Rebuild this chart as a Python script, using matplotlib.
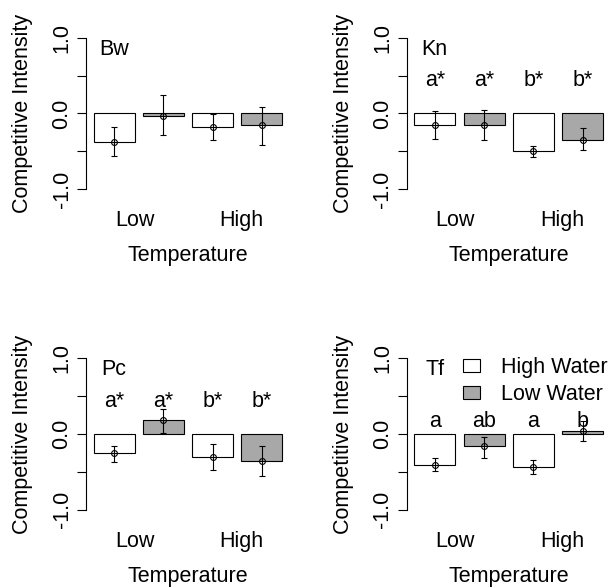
import numpy as np
import matplotlib
matplotlib.use("Agg")
import matplotlib.pyplot as plt
from matplotlib.patches import Patch

plt.rcParams['font.family'] = ['Liberation Sans', 'DejaVu Sans']
plt.rcParams['font.size'] = 15.5

# one entry per panel: High Water / Low Water at Low temp, then at High temp
panels = ["Bw", "Kn", "Pc", "Tf"]
means = {
    "Bw": [-0.38, -0.035, -0.18, -0.15],
    "Kn": [-0.15, -0.15, -0.50, -0.35],
    "Pc": [-0.25, 0.19, -0.30, -0.35],
    "Tf": [-0.41, -0.16, -0.43, 0.035],
}
ci_low = {
    "Bw": [-0.56, -0.29, -0.35, -0.41],
    "Kn": [-0.34, -0.35, -0.58, -0.485],
    "Pc": [-0.365, 0.01, -0.47, -0.56],
    "Tf": [-0.49, -0.31, -0.53, -0.09],
}
ci_high = {
    "Bw": [-0.18, 0.24, -0.01, 0.09],
    "Kn": [0.035, 0.05, -0.43, -0.19],
    "Pc": [-0.155, 0.335, -0.135, -0.155],
    "Tf": [-0.32, -0.035, -0.34, 0.17],
}
letters = {
    "Bw": None,
    "Kn": ["a*", "a*", "b*", "b*"],
    "Pc": ["a*", "a*", "b*", "b*"],
    "Tf": ["a", "ab", "a", "b"],
}
letter_y = {"Kn": 0.435, "Pc": 0.435, "Tf": 0.16}
water = ["High Water", "Low Water"]
temps = ["Low", "High"]
colors = ["white", "#A8A8A8"]

# barplot positions like R: width 1, space 0.2
xpos = 0.2 + np.arange(4) * 1.2 + 0.5
bar_cols = [colors[0], colors[1], colors[0], colors[1]]

fig = plt.figure(figsize=(6.16, 5.88), dpi=100)
lefts = [0.1396, 0.6602, 0.1396, 0.6602]
bottoms = [0.668, 0.668, 0.1228, 0.1228]

for i, name in enumerate(panels):
    ax = fig.add_axes([lefts[i], bottoms[i], 0.3312, 0.278])
    m = np.array(means[name])
    lo = np.array(ci_low[name])
    hi = np.array(ci_high[name])
    ax.bar(xpos, m, width=1.0, color=bar_cols, edgecolor="black", linewidth=0.8, zorder=2)
    ax.errorbar(xpos, m, yerr=[m - lo, hi - m], fmt="o", mfc="none", mec="black",
                mew=0.8, ms=4.2, ecolor="black", elinewidth=0.8, capsize=2.2,
                capthick=0.8, zorder=3)
    ax.set_xlim(0.016, 4.984)
    ax.set_ylim(-1.08, 1.08)
    for s in ["top", "right", "bottom"]:
        ax.spines[s].set_visible(False)
    ax.spines["left"].set_bounds(-1, 1)
    ax.spines["left"].set_linewidth(0.8)
    ax.set_yticks([-1, -0.5, 0, 0.5, 1])
    ax.set_yticklabels(["-1.0", "", "0.0", "", "1.0"], rotation=90, va="center")
    ax.tick_params(axis="y", length=6.5, width=0.8, pad=3.2)
    ax.set_xticks([1.2, 3.8])
    ax.set_xticklabels(temps)
    ax.tick_params(axis="x", length=0, pad=11)
    ax.set_xlabel("Temperature", labelpad=10)
    ax.set_ylabel("Competitive Intensity", labelpad=13)
    ax.text(xpos[0], 0.85, name, ha="center", va="center")
    if letters[name]:
        for x, s in zip(xpos, letters[name]):
            ax.text(x, letter_y[name], s, ha="center", va="center")
    if name == "Tf":
        handles = [Patch(facecolor=c, edgecolor="black", linewidth=0.8) for c in colors]
        ax.legend(handles, water, loc="center left", bbox_to_anchor=(0.276, 0.825),
                  frameon=False, borderpad=0, borderaxespad=0, handlelength=0.8,
                  handleheight=0.55, handletextpad=0.97, labelspacing=0.3)

fig.savefig("out.png", dpi=100)
